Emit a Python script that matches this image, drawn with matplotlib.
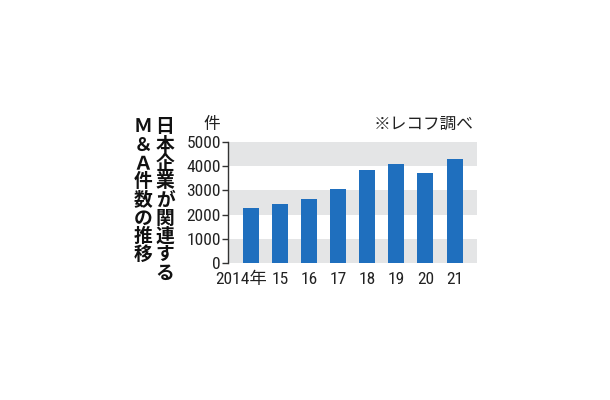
import matplotlib
matplotlib.use("Agg")
import matplotlib.pyplot as plt
import matplotlib.transforms as mtrans
from matplotlib import font_manager as fm

years = ["2014年", "15", "16", "17", "18", "19", "20", "21"]
counts = [2285, 2428, 2652, 3050, 3850, 4088, 3730, 4280]
yticks = [0, 1000, 2000, 3000, 4000, 5000]
title_col1 = "日本企業が関連する"
title_col2 = "Ｍ＆Ａ件数の推移"
unit_label = "件"
source_label = "※レコフ調べ"

installed = set(f.name for f in fm.fontManager.ttflist)
NUM_FONT = [f for f in ["Roboto Condensed", "Archivo Narrow", "Barlow Condensed",
                        "Liberation Sans Narrow"] if f in installed][:1] + ["Noto Sans CJK JP", "DejaVu Sans"]
CJK_FONT = ["Noto Sans CJK JP", "DejaVu Sans"]

fig = plt.figure(figsize=(6.1, 4.0), dpi=100)
W, H = 610, 400
ax = fig.add_axes([228 / W, 1 - 263.3 / H, (477 - 228) / W, (263.3 - 141.7) / H])

x = list(range(len(years)))
ax.set_xlim(-0.78, len(years) - 1 + 0.77)
ax.set_ylim(0, 5000)

# gray bands
for lo in yticks[:-1:2]:
    ax.axhspan(lo, lo + 1000, color="#e4e5e6", lw=0, zorder=0)

ax.bar(x, counts, width=0.55, color="#1f6fbe", zorder=2)

for s in ["top", "right", "bottom"]:
    ax.spines[s].set_visible(False)
ax.spines["left"].set_color("#333333")
ax.spines["left"].set_linewidth(1.0)

ax.set_yticks(yticks)
ax.set_yticklabels([str(v) for v in yticks], fontfamily=NUM_FONT, fontsize=12.5, color="#222222")
ax.tick_params(axis="y", length=4, width=1.0, color="#333333", pad=1)
ax.set_xticks(x)
ax.set_xticklabels(years, fontfamily=NUM_FONT, fontsize=12.5, color="#222222")
ax.tick_params(axis="x", length=0, pad=6)
first = ax.get_xticklabels()[0]
first.set_horizontalalignment("right")
first.set_transform(first.get_transform() + mtrans.ScaledTranslation(16 / 100, 0, fig.dpi_scale_trans))

# unit and source
fig.text(212 / W, 1 - 124 / H, unit_label, fontfamily=CJK_FONT, fontsize=12,
         ha="center", va="center", color="#222222")
fig.text(473 / W, 1 - 124 / H, source_label, fontfamily=CJK_FONT, fontsize=12,
         ha="right", va="center", color="#222222")

# vertical title (right column first)
step = 18.25
for i, ch in enumerate(title_col1):
    fig.text(165 / W, 1 - (127 + i * step) / H, ch, fontfamily=CJK_FONT, fontsize=13.5,
             fontweight="bold", ha="center", va="center", color="#111111")
for i, ch in enumerate(title_col2):
    fig.text(143 / W, 1 - (127 + i * step) / H, ch, fontfamily=CJK_FONT, fontsize=13.5,
             fontweight="bold", ha="center", va="center", color="#111111")

fig.savefig("out.png", dpi=100, facecolor="white")
